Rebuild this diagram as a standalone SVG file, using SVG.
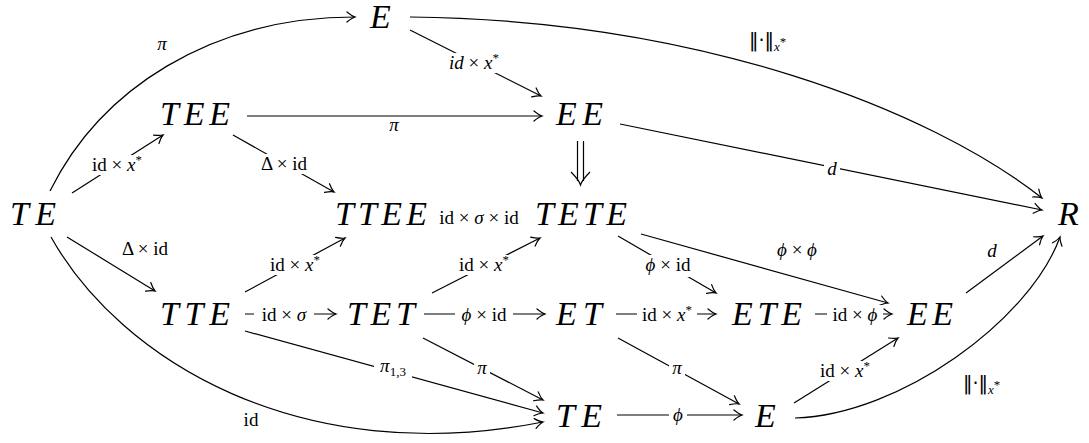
<svg xmlns="http://www.w3.org/2000/svg" width="1089" height="443" viewBox="0 0 1089 443">
<defs>
<marker id="ah" viewBox="-10 -7 12 14" refX="0" refY="0" markerWidth="12" markerHeight="14" markerUnits="userSpaceOnUse" orient="auto">
<path d="M -8 -5 C -5 -2.5 -2 -0.6 0 0 C -2 0.6 -5 2.5 -8 5" fill="none" stroke="#000" stroke-width="1.2" stroke-linecap="round"/>
</marker>
<style>
.n{font-family:"Liberation Serif",serif;font-style:italic;font-size:34px;fill:#000}
.l{font-family:"Liberation Serif","DejaVu Serif",serif;font-size:19px;fill:#000}
.i{font-style:italic}
.s{font-size:13px}
.nm{font-family:"DejaVu Sans",sans-serif;font-style:normal}
.e{fill:none;stroke:#000;stroke-width:1.2;marker-end:url(#ah)}
.d{fill:none;stroke:#000;stroke-width:1.2}
.bg{fill:#fff}
</style>
</defs>
<rect width="1089" height="443" fill="#fff"/>

<g id="connectors">
<path class="e" d="M 50 191 C 100 90 210 17 355 17"/>
<path class="e" d="M 410 17 C 700 20 930 110 1042 198"/>
<path class="e" d="M 72 193 L 163 135"/>
<path class="e" d="M 247 116 L 542 116"/>
<path class="e" d="M 410 30 L 541 96"/>
<path class="e" d="M 233 135 L 334 192"/>
<path class="e" d="M 620 124 L 1042 210"/>
<path class="d" d="M 577.5 141 V 181 M 583.5 141 V 181"/>
<path class="d" d="M 571 172 C 575 176 579 180 580.5 185 C 582 180 586 176 590 172"/>
<path class="e" d="M 67 237 L 155 291"/>
<path class="e" d="M 51 237 C 120 360 300 470 543 422"/>
<path class="e" d="M 245 292 L 345 238"/>
<path class="e" d="M 245 314 L 336 314"/>
<path class="e" d="M 245 331 L 543 413"/>
<path class="e" d="M 432 293 L 540 238"/>
<path class="e" d="M 424 314 L 545 314"/>
<path class="e" d="M 423 338 L 543 400"/>
<path class="e" d="M 618 236 L 716 293"/>
<path class="e" d="M 641 234 L 888 303"/>
<path class="e" d="M 616 314 L 716 314"/>
<path class="e" d="M 815 314 L 892 314"/>
<path class="e" d="M 618 338 L 739 404"/>
<path class="e" d="M 617 415 L 742 415"/>
<path class="e" d="M 794 403 L 898 338"/>
<path class="e" d="M 966 293 L 1043 236"/>
<path class="e" d="M 795 418 C 900 415 1030 320 1060 237"/>

<g id="labels">
<text class="l i" x="162" y="50" text-anchor="middle">π</text>
<text class="l" x="749" y="47"><tspan class="nm">‖·‖</tspan><tspan class="i s" dy="4">x</tspan><tspan class="s" dy="-5">*</tspan></text>
<rect class="bg" x="446" y="53" width="58" height="20"/>
<text class="l" x="474" y="69" text-anchor="middle"><tspan class="i">id</tspan> × <tspan class="i">x</tspan><tspan class="s" dy="-7">*</tspan></text>
<text class="l i" x="394" y="131" text-anchor="middle">π</text>
<rect class="bg" x="88" y="155" width="58" height="20"/>
<text class="l" x="117" y="171" text-anchor="middle">id × <tspan class="i">x</tspan><tspan class="s" dy="-7">*</tspan></text>
<rect class="bg" x="257" y="154" width="55" height="20"/>
<text class="l" x="284" y="170" text-anchor="middle">Δ × id</text>
<rect class="bg" x="824" y="159" width="16" height="20"/>
<text class="l i" x="832" y="175" text-anchor="middle">d</text>
<text class="l" x="479" y="224" text-anchor="middle">id × <tspan class="i">σ</tspan> × id</text>
<text class="l" x="145" y="255" text-anchor="middle">Δ × id</text>
<rect class="bg" x="266" y="255" width="58" height="20"/>
<text class="l" x="295" y="271" text-anchor="middle">id × <tspan class="i">x</tspan><tspan class="s" dy="-7">*</tspan></text>
<rect class="bg" x="455" y="255" width="58" height="20"/>
<text class="l" x="484" y="271" text-anchor="middle">id × <tspan class="i">x</tspan><tspan class="s" dy="-7">*</tspan></text>
<rect class="bg" x="642" y="255" width="52" height="22"/>
<text class="l" x="668" y="271" text-anchor="middle"><tspan class="i">ϕ</tspan> × id</text>
<text class="l" x="797" y="256" text-anchor="middle"><tspan class="i">ϕ</tspan> × <tspan class="i">ϕ</tspan></text>
<text class="l i" x="992" y="257" text-anchor="middle">d</text>
<rect class="bg" x="254" y="305" width="60" height="20"/>
<text class="l" x="284" y="321" text-anchor="middle">id × <tspan class="i">σ</tspan></text>
<rect class="bg" x="455" y="305" width="58" height="22"/>
<text class="l" x="484" y="321" text-anchor="middle"><tspan class="i">ϕ</tspan> × id</text>
<rect class="bg" x="637" y="305" width="60" height="20"/>
<text class="l" x="667" y="321" text-anchor="middle">id × <tspan class="i">x</tspan><tspan class="s" dy="-7">*</tspan></text>
<rect class="bg" x="827" y="305" width="56" height="22"/>
<text class="l" x="855" y="321" text-anchor="middle">id × <tspan class="i">ϕ</tspan></text>
<rect class="bg" x="374" y="357" width="38" height="22"/>
<text class="l" x="393" y="372" text-anchor="middle"><tspan class="i">π</tspan><tspan class="s" dy="4">1,3</tspan></text>
<rect class="bg" x="474" y="361" width="16" height="16"/>
<text class="l i" x="482" y="374" text-anchor="middle">π</text>
<rect class="bg" x="669" y="361" width="16" height="16"/>
<text class="l i" x="677" y="374" text-anchor="middle">π</text>
<text class="l" x="251" y="426" text-anchor="middle">id</text>
<rect class="bg" x="669" y="405" width="18" height="22"/>
<text class="l i" x="678" y="421" text-anchor="middle">ϕ</text>
<rect class="bg" x="816" y="361" width="58" height="20"/>
<text class="l" x="845" y="377" text-anchor="middle">id × <tspan class="i">x</tspan><tspan class="s" dy="-7">*</tspan></text>
<text class="l" x="963" y="390"><tspan class="nm">‖·‖</tspan><tspan class="i s" dy="4">x</tspan><tspan class="s" dy="-5">*</tspan></text>
</g>
</g>

<g id="n-TE"><text class="n" x="10" y="225" textLength="46">TE</text></g>
<g id="n-E-top"><text class="n" x="370" y="28">E</text></g>
<g id="n-TEE"><text class="n" x="160" y="125" textLength="70">TEE</text></g>
<g id="n-EE-top"><text class="n" x="556" y="125" textLength="47">EE</text></g>
<g id="n-R"><text class="n" x="1058" y="225">R</text></g>
<g id="n-TTEE"><text class="n" x="335" y="225" textLength="92">TTEE</text></g>
<g id="n-TETE"><text class="n" x="535" y="225" textLength="92">TETE</text></g>
<g id="n-TTE"><text class="n" x="160" y="325" textLength="70">TTE</text></g>
<g id="n-TET"><text class="n" x="347" y="325" textLength="68">TET</text></g>
<g id="n-ET"><text class="n" x="556" y="325" textLength="46">ET</text></g>
<g id="n-ETE"><text class="n" x="732" y="325" textLength="70">ETE</text></g>
<g id="n-EE-bot"><text class="n" x="907" y="325" textLength="46">EE</text></g>
<g id="n-TE-bot"><text class="n" x="556" y="427" textLength="46">TE</text></g>
<g id="n-E-bot"><text class="n" x="755" y="427">E</text></g>
</svg>
